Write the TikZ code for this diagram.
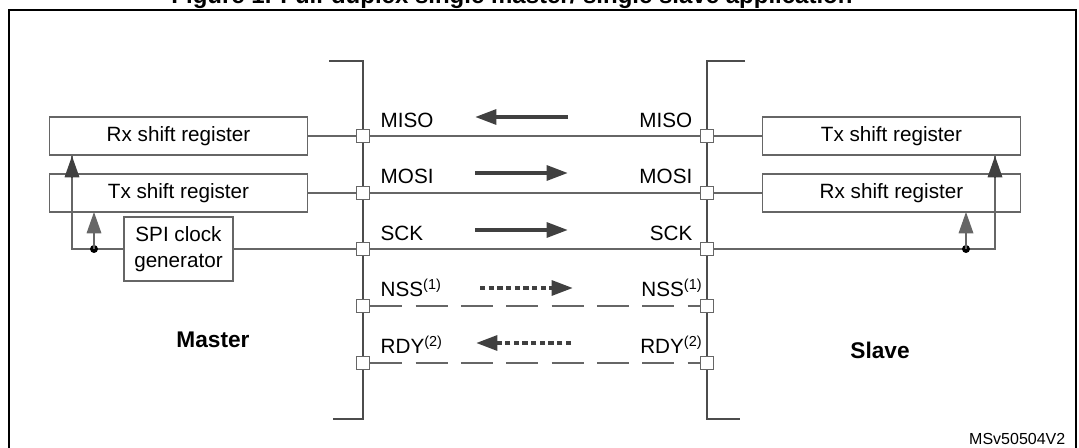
\documentclass[tikz,border=0pt]{standalone}
\usepackage{fontspec}
\setmainfont{Liberation Sans}
\usetikzlibrary{arrows.meta}

\begin{document}
\begin{tikzpicture}[x=0.75pt,y=-0.75pt,>={Triangle[length=16pt,width=11pt]},
	reg/.style={draw=black!60,line width=0.8pt,minimum width=193.5pt,minimum height=28.5pt,inner sep=0pt,font=\fontsize{15.5}{18}\selectfont},
	pin/.style={draw=black!60,line width=0.8pt,fill=white,minimum size=10pt,inner sep=0pt},
	wire/.style={black!60,line width=0.9pt},
	bus/.style={black!70,line width=1.5pt},
	sig/.style={font=\fontsize{15.5}{18}\selectfont},
	flow/.style={black!75,line width=3pt,->},
	dflow/.style={black!75,line width=3pt,dash pattern=on 4pt off 2.5pt,->}]

\useasboundingbox (0,0) rectangle (1079,448);
\draw [line width=1.8pt] (9,460) -- (9,10) -- (1076,10) -- (1076,460);
\node [font=\bfseries\fontsize{18}{21}\selectfont] (title) at (512,-3) {Figure 1. Full-duplex single master/ single slave application};

%%%%%%%%%%%%%%%%%%%%%%%%%%%%%%%%%%%%%%%%%%

\draw [bus] (329,61) -- (363,61) -- (363,419) -- (333,419);
\draw [bus] (745,61) -- (707,61) -- (707,419) -- (740,419);

\foreach \name/\y in {miso/136,mosi/193,sck/249,nss/306,rdy/363} {
	\node [pin] (m\name) at (363,\y) {};
	\node [pin] (s\name) at (707,\y) {};
}

\draw [wire] (mmiso) -- (smiso);
\draw [wire] (mmosi) -- (smosi);
\draw [wire] (msck) -- (ssck);
\draw [wire,dash pattern=on 24pt off 10pt] (mnss) -- (snss);
\draw [wire,dash pattern=on 24pt off 10pt] (mrdy) -- (srdy);

\node [sig,anchor=west] (lmiso) at (376,120) {MISO};
\node [sig,anchor=west] (lmosi) at (376,176) {MOSI};
\node [sig,anchor=west] (lsck) at (376,233) {SCK};
\node [sig,anchor=west] (lnss) at (376,288) {NSS\textsuperscript{(1)}};
\node [sig,anchor=west] (lrdy) at (376,345) {RDY\textsuperscript{(2)}};
\node [sig,anchor=east] (rmiso) at (697,120) {MISO};
\node [sig,anchor=east] (rmosi) at (697,176) {MOSI};
\node [sig,anchor=east] (rsck) at (697,233) {SCK};
\node [sig,anchor=east] (rnss) at (707,288) {NSS\textsuperscript{(1)}};
\node [sig,anchor=east] (rrdy) at (707,345) {RDY\textsuperscript{(2)}};

\draw [flow] (568,117) -- (475,117);
\draw [flow] (475,173) -- (568,173);
\draw [flow] (475,230) -- (568,230);
\draw [dflow] (480,288) -- (573,288);
\draw [dflow] (571,343) -- (476,343);

%%%%%%%%%%%%%%%%%%%%%%%%%%%%%%%%%%%%%%%%%%

\node [reg] (mrx) at (178.5,136) {Rx shift register};
\node [reg] (mtx) at (178.5,193) {Tx shift register};
\node [draw=black!60,line width=0.8pt,minimum width=81.75pt,minimum height=48pt,inner sep=0pt,align=center,
	font=\fontsize{15.5}{19}\selectfont] (clk) at (178.5,249) {SPI clock\\generator};
\draw [wire] (mrx) -- (mmiso);
\draw [wire] (mtx) -- (mmosi);
\draw [wire] (clk) -- (msck);
\draw [wire] (clk.west) -- (72,249) -- (72,156);
\draw [->,black!75,line width=0.9pt] (72,178) -- (72,156);
\fill [black] (94,249) circle (3pt);
\draw [wire,->] (94,249) -- (94,212);

\node [reg] (stx) at (891.5,136) {Tx shift register};
\node [reg] (srx) at (891.5,193) {Rx shift register};
\draw [wire] (stx) -- (smiso);
\draw [wire] (srx) -- (smosi);
\draw [wire] (ssck) -- (995,249) -- (995,156);
\draw [->,black!75,line width=0.9pt] (995,178) -- (995,156);
\fill [black] (966,249) circle (3pt);
\draw [wire,->] (966,249) -- (966,212);

%%%%%%%%%%%%%%%%%%%%%%%%%%%%%%%%%%%%%%%%%%

\node [font=\bfseries\fontsize{17}{20}\selectfont] (master) at (213,340) {Master};
\node [font=\bfseries\fontsize{17}{20}\selectfont] (slave) at (880,350) {Slave};
\node [font=\fontsize{12}{14}\selectfont,anchor=east] (ref) at (1070,439) {MSv50504V2};

\end{tikzpicture}
\end{document}
